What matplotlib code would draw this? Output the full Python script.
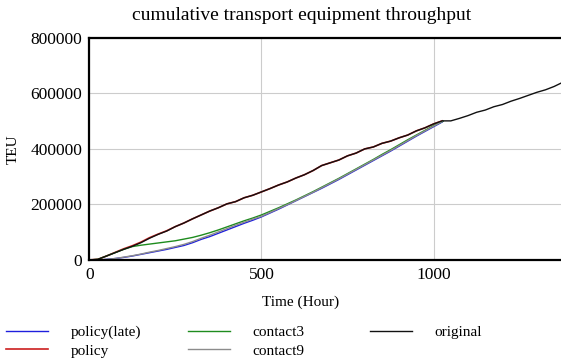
import numpy as np
import matplotlib.pyplot as plt

plt.rcParams['font.family'] = ['Liberation Serif', 'DejaVu Serif']

# time axis (hours), 25 h steps
t_long = list(range(0, 1376, 25))

# original run (black), wiggly, runs to the end
original = [0, 2000, 14000, 26000, 38000, 49000, 62000, 78000, 92000, 104000,
            120000, 133000, 148000, 162000, 176000, 188000, 202000, 210000, 224000, 233000,
            245000, 257000, 270000, 281000, 295000, 307000, 322000, 340000, 350000, 360000,
            375000, 385000, 400000, 407000, 420000, 428000, 440000, 450000, 465000, 476000,
            490000, 501000, 501000, 510000, 520000, 532000, 540000, 552000, 560000, 572000,
            582000, 593000, 604000, 613000, 625000, 640000]

# policy run (red), lies under the original, stops near 1025 h
t_policy = list(range(0, 1026, 25))
policy = [0, 2000, 14000, 27000, 40000, 51000, 64000, 80000, 93000, 105000,
          120000, 133000, 148000, 162000, 176000, 188000, 202000, 210000, 224000, 233000,
          245000, 257000, 270000, 281000, 295000, 307000, 322000, 340000, 350000, 360000,
          375000, 385000, 400000, 407000, 420000, 428000, 440000, 450000, 465000, 476000,
          490000, 501000]

# contact3 (green): follows original, then bends away at ~125 h
t_contact3 = list(range(0, 1001, 25)) + [1028]
contact3 = [0, 2000, 14000, 26000, 38000, 48000, 53000, 57000, 61000, 65000,
            69000, 75000, 81000, 89000, 98000, 108000, 119000, 130000, 141000, 151000,
            162000, 175000, 188000, 202000, 216000, 231000, 246000, 262000, 278000, 294000,
            311000, 328000, 345000, 362000, 380000, 397000, 415000, 433000, 450000, 467000,
            484000, 500000]

# policy(late) (blue) and contact9 (gray)
t_late = [30] + list(range(50, 1026, 25))
policy_late = [0, 2000, 5000, 9000, 14000, 20000, 26000, 32000, 38000, 45000,
               52000, 62000, 74000, 84000, 96000, 108000, 120000, 132000, 143000, 155000,
               169000, 183000, 198000, 213000, 228000, 243000, 258000, 274000, 290000, 307000,
               324000, 341000, 358000, 375000, 392000, 410000, 428000, 446000, 463000, 480000,
               497000]
contact9 = [0, 2000, 5000, 10000, 15000, 21000, 28000, 34000, 41000, 48000,
            56000, 66000, 78000, 89000, 101000, 113000, 125000, 136000, 147000, 157000,
            171000, 185000, 199000, 214000, 229000, 244000, 260000, 276000, 292000, 309000,
            326000, 343000, 360000, 377000, 394000, 412000, 430000, 448000, 465000, 482000,
            499000]

fig = plt.figure(figsize=(5.61, 3.61), dpi=100)
ax = fig.add_axes([0.159, 0.28, 0.841, 0.615])

l1, = ax.plot(t_late, policy_late, color='#1f1fdd', lw=1.0, label='policy(late)')
l2, = ax.plot(t_policy, policy, color='#cc1f1f', lw=1.2, label='policy')
l3, = ax.plot(t_contact3, contact3, color='#1e8c1e', lw=1.0, label='contact3')
l4, = ax.plot(t_late, contact9, color='#8c8c8c', lw=1.0, label='contact9')
l5, = ax.plot(t_long, original, color='#111111', lw=1.0, label='original')

ax.set_xlim(0, 1370)
ax.set_ylim(0, 800000)
ax.set_xticks([0, 500, 1000])
ax.set_yticks([0, 200000, 400000, 600000, 800000])
ax.grid(True, color='#cccccc', lw=0.8)
ax.set_axisbelow(True)
ax.tick_params(length=0, labelsize=12.5, pad=5)
for s in ['left', 'bottom', 'top']:
    ax.spines[s].set_linewidth(1.6)
ax.spines['right'].set_visible(False)

fig.text(302 / 561, 1 - 16 / 361, 'cumulative transport equipment throughput',
         fontsize=14, ha='center', va='center')
ax.set_xlabel('Time (Hour)', fontsize=11)
ax.xaxis.set_label_coords(0.449, -0.16)
ax.set_ylabel('TEU', fontsize=11, labelpad=8)

# legend in three fixed-width columns, like the original tool output
cols = [([l1, l2], 0.0), ([l3, l4], 0.325), ([l5], 0.649)]
for handles, x0 in cols:
    fig.legend(handles=handles, loc='upper left', bbox_to_anchor=(x0, 0.115),
               frameon=False, fontsize=11, handlelength=2.75, handletextpad=1.45,
               labelspacing=0.3, borderaxespad=0.0)

fig.savefig('out.png', dpi=100)
